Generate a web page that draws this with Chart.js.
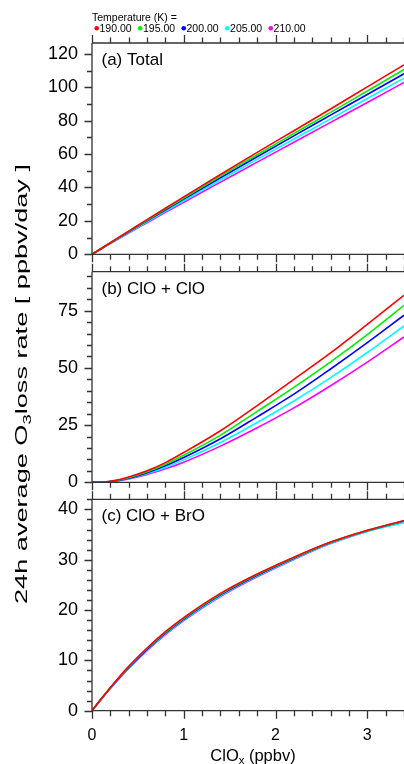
<!DOCTYPE html>
<html><head><meta charset="utf-8">
<script src="https://cdn.jsdelivr.net/npm/chart.js@4.4.1/dist/chart.umd.min.js"></script>
<style>
html,body{margin:0;padding:0;background:#fff;}
#wrap{position:relative;width:404px;height:764px;overflow:hidden;background:#fff;}
.pane{position:absolute;left:0;top:0;width:404px;height:764px;}
</style></head><body>
<div id="wrap">
<div class="pane"><canvas id="ca"></canvas></div>
<div class="pane"><canvas id="cb"></canvas></div>
<div class="pane"><canvas id="cc"></canvas></div>
</div>
<script>
// ---- data ----
const clox = [0, 0.1, 0.2, 0.4, 0.6, 0.8, 1.0, 1.4, 1.8, 2.2, 2.6, 3.0, 3.4];
const temperatures = ['190.00', '195.00', '200.00', '205.00', '210.00'];
const seriesColors = ['#ff0000', '#00ee00', '#0000ff', '#00ffff', '#ff00ff'];

// (a) Total
const total190 = [0, 3.5, 7.0, 13.9, 20.8, 27.6, 34.4, 47.8, 61.0, 74.0, 87.0, 100.2, 113.4];
const total195 = [0, 3.45, 6.9, 13.7, 20.4, 27.1, 33.7, 46.8, 59.6, 72.3, 85.0, 97.8, 110.6];
const total200 = [0, 3.35, 6.7, 13.4, 20.0, 26.5, 33.0, 45.8, 58.4, 70.9, 83.3, 95.7, 108.1];
const total205 = [0, 3.3, 6.55, 13.05, 19.5, 25.8, 32.1, 44.5, 56.8, 69.0, 81.1, 93.3, 105.5];
const total210 = [0, 3.2, 6.4, 12.7, 18.9, 25.1, 31.2, 43.2, 55.2, 67.1, 79.0, 90.9, 102.9];

// (b) ClO + ClO
const cloclo190 = [0, 0.05, 0.4, 2.3, 5.0, 8.6, 13.0, 22.5, 33.5, 45.0, 56.5, 69.0, 81.7];
const cloclo195 = [0, 0.05, 0.35, 2.0, 4.6, 7.9, 11.8, 20.6, 31.0, 41.5, 52.6, 64.5, 77.3];
const cloclo200 = [0, 0.04, 0.3, 1.8, 4.2, 7.2, 10.8, 19.0, 28.6, 38.5, 49.5, 61.0, 73.0];
const cloclo205 = [0, 0.035, 0.28, 1.65, 3.8, 6.5, 9.8, 17.4, 26.1, 35.5, 45.7, 56.7, 68.3];
const cloclo210 = [0, 0.03, 0.25, 1.5, 3.4, 5.9, 8.8, 15.8, 23.8, 32.5, 42.2, 52.5, 63.5];

// (c) ClO + BrO
const clobro190 = [0, 2.35, 4.6, 8.8, 12.45, 15.7, 18.5, 23.3, 27.15, 30.5, 33.5, 35.85, 37.75];
const clobro195 = [0, 2.33, 4.55, 8.7, 12.35, 15.55, 18.35, 23.15, 27.05, 30.4, 33.45, 35.8, 37.7];
const clobro200 = [0, 2.3, 4.5, 8.6, 12.2, 15.4, 18.2, 23.0, 26.9, 30.3, 33.4, 35.75, 37.65];
const clobro205 = [0, 2.27, 4.45, 8.5, 12.05, 15.25, 18.05, 22.85, 26.75, 30.15, 33.25, 35.6, 37.35];
const clobro210 = [0, 2.25, 4.4, 8.4, 11.95, 15.1, 17.9, 22.7, 26.6, 30.05, 33.2, 35.65, 37.8];

// tick labels
const xTickValues = [0, 1, 2, 3];
const yTicksA = [0, 20, 40, 60, 80, 100, 120];
const yTicksB = [0, 25, 50, 75];
const yTicksC = [0, 10, 20, 30, 40];

const panelA = 'Total';
const panelB = 'ClO + ClO';
const panelC = 'ClO + BrO';

// ---- drawing ----
const FONT = "'Liberation Sans', Arial, sans-serif";

function datasets(list) {
  return list.map((s, i) => ({
    label: temperatures[i],
    data: clox.map((x, j) => ({ x: x, y: s[j] })),
    borderColor: seriesColors[i],
    backgroundColor: seriesColors[i],
    borderWidth: 1.6,
    pointRadius: 0,
    fill: false,
    tension: 0.4,
    cubicInterpolationMode: 'monotone'
  }));
}

function framePlugin(o) {
  return {
    id: 'frame',
    afterDraw(chart) {
      const ctx = chart.ctx;
      const { left, right, top, bottom } = chart.chartArea;
      const xs = chart.scales.x, ys = chart.scales.y;
      ctx.save();
      ctx.strokeStyle = '#333';
      ctx.lineWidth = 1.3;
      ctx.beginPath();
      ctx.moveTo(left, top); ctx.lineTo(left, bottom);
      ctx.moveTo(left, top); ctx.lineTo(right, top);
      ctx.moveTo(left, bottom); ctx.lineTo(right, bottom);
      for (let i = 0; i <= 17; i++) {
        const v = i * 0.2;
        const px = Math.round(xs.getPixelForValue(v)) + 0.5;
        const major = (i % 5 === 0);
        const len = major ? 8 : 5.5;
        ctx.moveTo(px, top); ctx.lineTo(px, top - len);
        ctx.moveTo(px, bottom); ctx.lineTo(px, bottom + len);
      }
      for (let v = 0; v <= o.yMax + 1e-9; v += o.yMinor) {
        const py = Math.round(ys.getPixelForValue(v)) + 0.5;
        const major = Math.abs(v / o.yMajor - Math.round(v / o.yMajor)) < 1e-6;
        const len = major ? 7.5 : 5;
        ctx.moveTo(left, py); ctx.lineTo(left - len, py);
      }
      ctx.stroke();
      ctx.fillStyle = '#000';
      ctx.font = '17px ' + FONT;
      ctx.textAlign = 'left';
      ctx.textBaseline = 'alphabetic';
      ctx.fillText(o.label, left + 9.5, top + 22);
      ctx.restore();
      if (o.extra) o.extra(chart);
    }
  };
}

function drawSub(ctx, parts, x, y, size, align, stretchTo) {
  const subSize = size * 0.68;
  let w = 0;
  parts.forEach(p => { ctx.font = (p[1] ? subSize : size) + 'px ' + FONT; w += ctx.measureText(p[0]).width; });
  let sx = 1;
  if (stretchTo) { sx = stretchTo / w; }
  ctx.save();
  ctx.translate(x, y);
  ctx.scale(sx, 1);
  let cx = align === 'center' ? -w / 2 : 0;
  parts.forEach(p => {
    ctx.font = (p[1] ? subSize : size) + 'px ' + FONT;
    ctx.fillText(p[0], cx, p[1] ? size * 0.22 : 0);
    cx += ctx.measureText(p[0]).width;
  });
  ctx.restore();
}

function extrasA(chart) {
  const ctx = chart.ctx;
  ctx.save();
  ctx.fillStyle = '#000';
  ctx.textAlign = 'left';
  ctx.textBaseline = 'alphabetic';
  ctx.font = '10.5px ' + FONT;
  ctx.fillText('Temperature (K) =', 92, 20.5);
  let x = 96.7;
  temperatures.forEach((t, i) => {
    ctx.fillStyle = seriesColors[i];
    ctx.beginPath(); ctx.arc(x, 28.3, 2.3, 0, Math.PI * 2); ctx.fill();
    ctx.fillStyle = '#000';
    ctx.fillText(t, x + 2.8, 32.2);
    x = x + 2.8 + ctx.measureText(t).width + 8.6;
  });
  ctx.translate(27, 384);
  ctx.rotate(-Math.PI / 2);
  drawSub(ctx, [['24h average O', false], ['3', true], ['loss rate [ ppbv/day ]', false]], 0, 0, 17, 'center', 440);
  ctx.restore();
}

function extrasC(chart) {
  const ctx = chart.ctx;
  ctx.save();
  ctx.fillStyle = '#000';
  ctx.textAlign = 'left';
  ctx.textBaseline = 'alphabetic';
  drawSub(ctx, [['ClO', false], ['x', true], [' (ppbv)', false]], 253, 760.5, 16.5, 'center');
  ctx.restore();
}

function makeChart(id, list, yMax, yTicks, yMinor, yMajor, padTop, padBottom, showX, label, extra) {
  return new Chart(document.getElementById(id), {
    type: 'line',
    data: { datasets: datasets(list) },
    options: {
      responsive: true,
      maintainAspectRatio: false,
      animation: false,
      events: [],
      layout: { padding: { top: padTop, bottom: padBottom, left: 0, right: 0 } },
      plugins: { legend: { display: false }, tooltip: { enabled: false } },
      scales: {
        x: {
          type: 'linear', min: 0, max: 3.4, display: showX,
          grid: { display: false, drawTicks: false },
          border: { display: false },
          afterBuildTicks: s => { s.ticks = xTickValues.map(v => ({ value: v })); },
          ticks: { font: { family: FONT, size: 16 }, color: '#000', padding: 15, maxRotation: 0, autoSkip: false },
          afterFit: s => { s.height = showX ? 53.3 : 0; }
        },
        y: {
          type: 'linear', min: 0, max: yMax,
          grid: { display: false, drawTicks: false },
          border: { display: false },
          afterBuildTicks: s => { s.ticks = yTicks.map(v => ({ value: v })); },
          ticks: { font: { family: FONT, size: 18 }, color: '#000', padding: 14, autoSkip: false },
          afterFit: s => { s.width = 92; }
        }
      }
    },
    plugins: [framePlugin({ yMax: yMax, yMinor: yMinor, yMajor: yMajor, label: label, extra: extra })]
  });
}

makeChart('ca', [total190, total195, total200, total205, total210], 126.5, yTicksA, 10, 20, 43, 764 - 254.3, false, '(a) ' + panelA, extrasA);
makeChart('cb', [cloclo190, cloclo195, cloclo200, cloclo205, cloclo210], 92, yTicksB, 5, 25, 271.7, 764 - 482.3, false, '(b) ' + panelB, null);
makeChart('cc', [clobro190, clobro195, clobro200, clobro205, clobro210], 42, yTicksC, 2, 10, 499.3, 0, true, '(c) ' + panelC, extrasC);
</script>
</body></html>
